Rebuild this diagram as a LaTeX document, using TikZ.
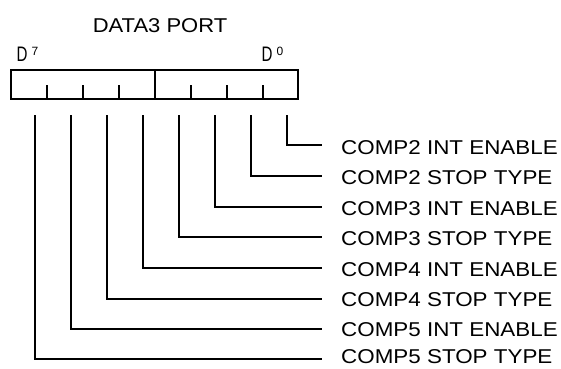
\documentclass[tikz,border=0pt]{standalone}
\usepackage{fontspec}
\setmainfont{Liberation Sans}
\begin{document}
\begin{tikzpicture}[x=1pt,y=-1pt,
  lbl/.style={anchor=west,inner sep=0pt,font=\fontsize{20}{20}\selectfont},
  bitlbl/.style={anchor=west,inner sep=0pt,font=\fontsize{21}{21}\selectfont},
  bitline/.style={line width=2.1pt},
  regbox/.style={draw,line width=2.5pt,minimum width=287pt,minimum height=29pt,inner sep=0pt},
  tick/.style={line width=2.1pt}]
\useasboundingbox (0,0) rectangle (561,368);
% title
\node[lbl,anchor=center] (title) at (160,25.5) {\scalebox{1.1}[1]{DATA3 PORT}};
% bit labels
\node[bitlbl] (d7) at (16.5,54.5) {\scalebox{0.72}[1]{D}\hspace{4pt}\raisebox{6pt}{\fontsize{12}{12}\selectfont 7}};
\node[bitlbl] (d0) at (261.5,54.5) {\scalebox{0.72}[1]{D}\hspace{4pt}\raisebox{6pt}{\fontsize{12}{12}\selectfont 0}};
% register box
\node[regbox] (reg) at (154.5,84.5) {};
\draw[line width=2.5pt] (155,70) -- (155,99);
\foreach \x in {47,83,119,191,227,263}{
  \draw[tick] (\x,85) -- (\x,99);
}
% bit coordinates
\foreach \i/\x in {0/287,1/251,2/215,3/179,4/143,5/107,6/71,7/35}{
  \coordinate (b\i) at (\x,115);
}
% labels
\node[lbl] (l0) at (341,147.5) {\scalebox{1.12}[1]{COMP2 INT ENABLE}};
\node[lbl] (l1) at (341,178) {\scalebox{1.12}[1]{COMP2 STOP TYPE}};
\node[lbl] (l2) at (341,208.5) {\scalebox{1.12}[1]{COMP3 INT ENABLE}};
\node[lbl] (l3) at (341,239) {\scalebox{1.12}[1]{COMP3 STOP TYPE}};
\node[lbl] (l4) at (341,269.5) {\scalebox{1.12}[1]{COMP4 INT ENABLE}};
\node[lbl] (l5) at (341,300) {\scalebox{1.12}[1]{COMP4 STOP TYPE}};
\node[lbl] (l6) at (341,330) {\scalebox{1.12}[1]{COMP5 INT ENABLE}};
\node[lbl] (l7) at (341,357) {\scalebox{1.12}[1]{COMP5 STOP TYPE}};
% connectors
\foreach \i/\y in {0/145,1/176,2/207,3/237,4/268,5/299,6/329,7/359}{
  \coordinate (e\i) at (322,\y);
  \draw[bitline] (b\i) |- (e\i);
}
\end{tikzpicture}
\end{document}
